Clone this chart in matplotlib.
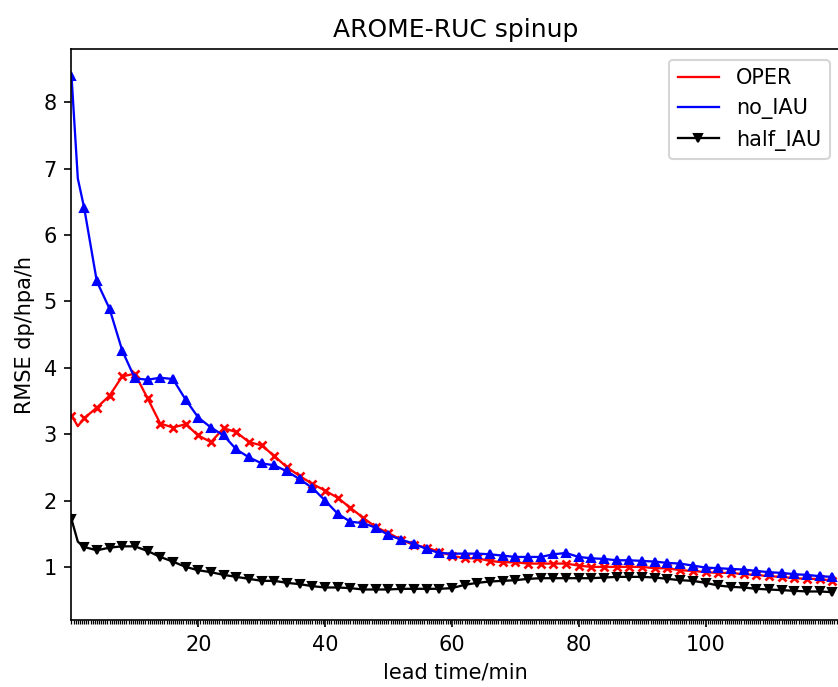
import matplotlib
matplotlib.use("Agg")
import matplotlib.pyplot as plt
from matplotlib.ticker import MultipleLocator

# lead times (min): 0, 1, then every 2 minutes up to 120
lead_time = [0, 1] + list(range(2, 121, 2))

oper = [3.28, 3.12, 3.24, 3.40, 3.58, 3.87, 3.91, 3.54, 3.16, 3.10,
        3.15, 2.98, 2.88, 3.09, 3.03, 2.88, 2.83, 2.67, 2.50, 2.37,
        2.25, 2.15, 2.04, 1.89, 1.74, 1.60, 1.51, 1.41, 1.33, 1.29,
        1.23, 1.17, 1.13, 1.13, 1.09, 1.07, 1.07, 1.05, 1.05, 1.05,
        1.05, 1.02, 1.00, 1.00, 1.00, 1.00, 1.00, 0.98, 0.98, 0.95,
        0.94, 0.92, 0.91, 0.91, 0.89, 0.88, 0.86, 0.85, 0.83, 0.82,
        0.82, 0.79]

no_iau = [8.40, 6.85, 6.41, 5.30, 4.89, 4.26, 3.84, 3.82, 3.85, 3.83,
          3.52, 3.25, 3.10, 2.98, 2.77, 2.65, 2.56, 2.53, 2.44, 2.32,
          2.19, 2.00, 1.80, 1.68, 1.66, 1.59, 1.48, 1.41, 1.35, 1.27,
          1.21, 1.20, 1.20, 1.20, 1.19, 1.17, 1.15, 1.15, 1.15, 1.19,
          1.21, 1.15, 1.13, 1.12, 1.10, 1.10, 1.09, 1.08, 1.06, 1.05,
          1.02, 0.99, 0.98, 0.97, 0.96, 0.94, 0.92, 0.91, 0.89, 0.88,
          0.86, 0.85]

half_iau = [1.72, 1.38, 1.30, 1.25, 1.29, 1.31, 1.31, 1.24, 1.15, 1.08,
            1.00, 0.95, 0.92, 0.88, 0.85, 0.82, 0.79, 0.79, 0.76, 0.74,
            0.71, 0.69, 0.69, 0.68, 0.66, 0.66, 0.66, 0.67, 0.67, 0.67,
            0.67, 0.68, 0.73, 0.76, 0.78, 0.79, 0.80, 0.82, 0.83, 0.83,
            0.83, 0.83, 0.83, 0.84, 0.85, 0.85, 0.85, 0.84, 0.82, 0.80,
            0.79, 0.76, 0.72, 0.70, 0.69, 0.67, 0.66, 0.65, 0.64, 0.63,
            0.63, 0.62]

# markers only on the 2-minute points
mark_idx = [0] + list(range(2, len(lead_time)))

fig = plt.figure(figsize=(838 / 150, 687 / 150), dpi=150)
ax = fig.add_axes([0.0853, 0.0975, 0.917, 0.831])

ax.plot(lead_time, oper, color="red", lw=1.1, label="OPER")
ax.plot(lead_time, oper, color="red", lw=0, marker="x", ms=3.8, mew=1.3,
        markevery=mark_idx)
ax.plot(lead_time, no_iau, color="blue", lw=1.1, label="no_IAU")
ax.plot(lead_time, no_iau, color="blue", lw=0, marker="^", ms=4,
        markevery=mark_idx)
ax.plot(lead_time, half_iau, color="black", lw=1.1, marker="v", ms=3.8,
        markevery=mark_idx, label="half_IAU")

ax.set_xlim(0, 121.2)
ax.set_ylim(0.2, 8.8)
ax.set_xticks([20, 40, 60, 80, 100])
ax.xaxis.set_minor_locator(MultipleLocator(1 / 3))

ax.set_title("AROME-RUC spinup")
ax.set_xlabel("lead time/min")
ax.set_ylabel("RMSE dp/hpa/h")
ax.legend(loc="upper right")

fig.savefig("out.png", dpi=150)
